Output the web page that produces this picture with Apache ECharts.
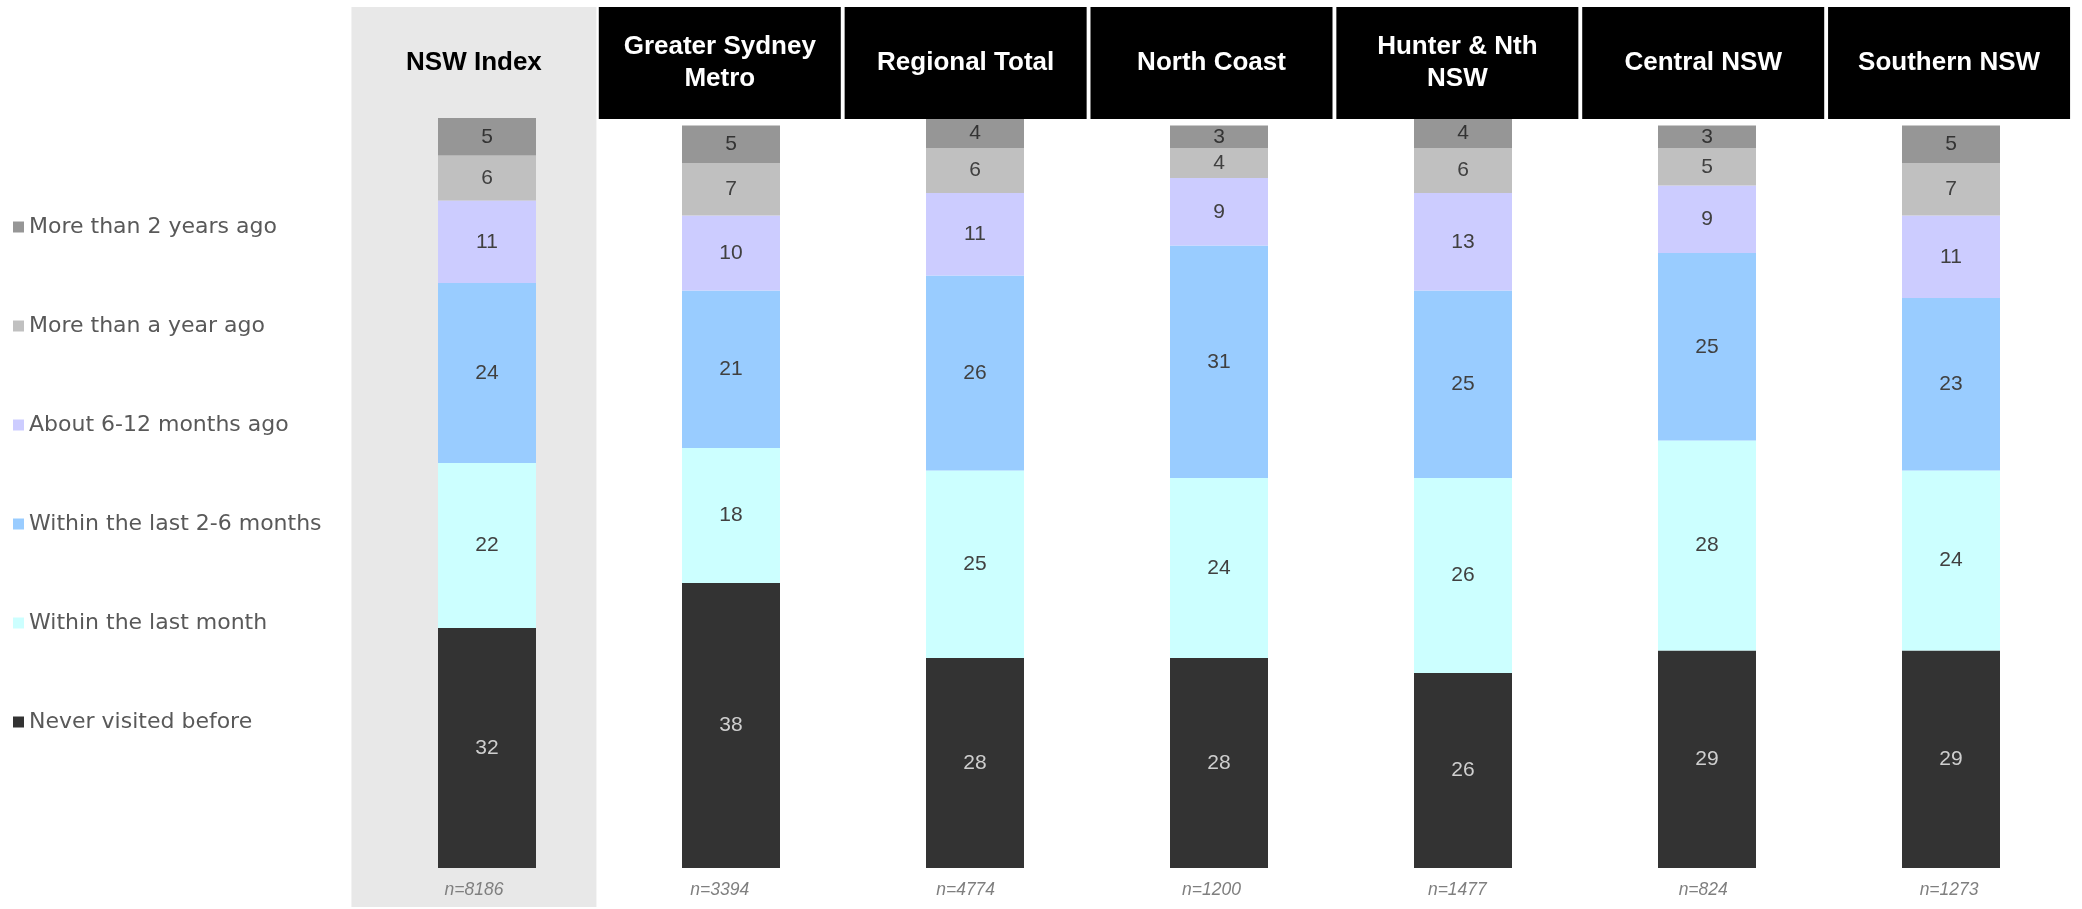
<!DOCTYPE html>
<html>
<head>
<meta charset="utf-8">
<title>Last visit by region</title>
<script src="https://cdn.jsdelivr.net/npm/echarts@6/dist/echarts.min.js"></script>
<style>
  html, body { margin: 0; padding: 0; background: #ffffff; }
  #chart { width: 2082px; height: 909px; }
</style>
</head>
<body>
<div id="chart"></div>
<script>
// Regions (column headers) and their sample sizes
const regions = ['NSW Index', 'Greater Sydney\nMetro', 'Regional Total', 'North Coast', 'Hunter & Nth\nNSW', 'Central NSW', 'Southern NSW'];
const sampleSizes = ['n=8186', 'n=3394', 'n=4774', 'n=1200', 'n=1477', 'n=824', 'n=1273'];

// Share of respondents (%) by time since last visit, stacked bottom to top
const neverVisited = [32, 38, 28, 28, 26, 29, 29];
const withinLastMonth = [22, 18, 25, 24, 26, 28, 24];
const within2to6Months = [24, 21, 26, 31, 25, 25, 23];
const about6to12Months = [11, 10, 11, 9, 13, 9, 11];
const moreThanAYear = [6, 7, 6, 4, 6, 5, 7];
const moreThan2Years = [5, 5, 4, 3, 4, 3, 5];

const segmentNames = ['Never visited before', 'Within the last month', 'Within the last 2-6 months', 'About 6-12 months ago', 'More than a year ago', 'More than 2 years ago'];
const segmentData = [neverVisited, withinLastMonth, within2to6Months, about6to12Months, moreThanAYear, moreThan2Years];
const segmentColors = ['#333333', '#ccffff', '#99ccff', '#ccccff', '#c0c0c0', '#969696'];
const labelColors = ['#cfcfcf', '#404040', '#404040', '#404040', '#404040', '#333333'];

const chart = echarts.init(document.getElementById('chart'), null, { renderer: 'canvas' });

const stackSeries = segmentNames.map((name, k) => ({
  name: name,
  type: 'bar',
  stack: 'visit',
  xAxisIndex: 0,
  yAxisIndex: 0,
  barWidth: 98,
  z: 3,
  data: segmentData[k],
  itemStyle: { color: segmentColors[k] },
  label: {
    show: true,
    position: 'inside',
    color: labelColors[k],
    fontFamily: 'Liberation Sans, Arial, sans-serif',
    fontSize: 21
  }
}));

// Shaded background column behind the NSW Index
const panelSeries = {
  name: 'panel',
  type: 'bar',
  xAxisIndex: 1,
  yAxisIndex: 1,
  barWidth: 245,
  silent: true,
  z: 0,
  data: regions.map((r, i) => (i === 0 ? 1 : '-')),
  itemStyle: { color: '#e8e8e8' }
};

// Column header boxes
const headerSeries = {
  name: 'header',
  type: 'bar',
  xAxisIndex: 2,
  yAxisIndex: 2,
  barWidth: 242,
  silent: true,
  z: 5,
  data: regions.map((r, i) => ({
    value: 1,
    itemStyle: { color: i === 0 ? 'rgba(0,0,0,0)' : '#000000' },
    label: { color: i === 0 ? '#000000' : '#ffffff' }
  })),
  label: {
    show: true,
    position: 'inside',
    formatter: '{b}',
    fontFamily: 'Liberation Sans, Arial, sans-serif',
    fontWeight: 'bold',
    fontSize: 26,
    lineHeight: 32
  }
};

chart.setOption({
  animation: false,
  backgroundColor: '#ffffff',
  grid: [
    { left: 365, right: 9, top: 118, bottom: 41 },
    { left: 351, right: 10, top: 7, bottom: 2 },
    { left: 351, right: 10, top: 7, height: 112 }
  ],
  xAxis: [
    { type: 'category', gridIndex: 0, data: regions, show: false },
    {
      type: 'category', gridIndex: 1, data: regions, position: 'bottom',
      axisLine: { show: false }, axisTick: { show: false }, splitLine: { show: false },
      axisLabel: {
        margin: -26,
        interval: 0,
        formatter: (v, i) => sampleSizes[i],
        fontFamily: 'Liberation Sans, Arial, sans-serif',
        fontStyle: 'italic',
        fontSize: 17.5,
        color: '#7f7f7f'
      }
    },
    { type: 'category', gridIndex: 2, data: regions, show: false }
  ],
  yAxis: [
    { type: 'value', gridIndex: 0, min: 0, max: 100, show: false },
    { type: 'value', gridIndex: 1, min: 0, max: 1, show: false },
    { type: 'value', gridIndex: 2, min: 0, max: 1, show: false }
  ],
  legend: {
    orient: 'vertical',
    left: 8,
    top: 211,
    itemWidth: 11,
    itemHeight: 11,
    itemGap: 77,
    icon: 'rect',
    selectedMode: false,
    data: segmentNames.slice().reverse(),
    textStyle: {
      fontFamily: 'DejaVu Sans, Verdana, sans-serif',
      fontSize: 22,
      lineHeight: 22,
      color: '#595959'
    }
  },
  series: [panelSeries].concat(stackSeries, [headerSeries])
});
</script>
</body>
</html>
